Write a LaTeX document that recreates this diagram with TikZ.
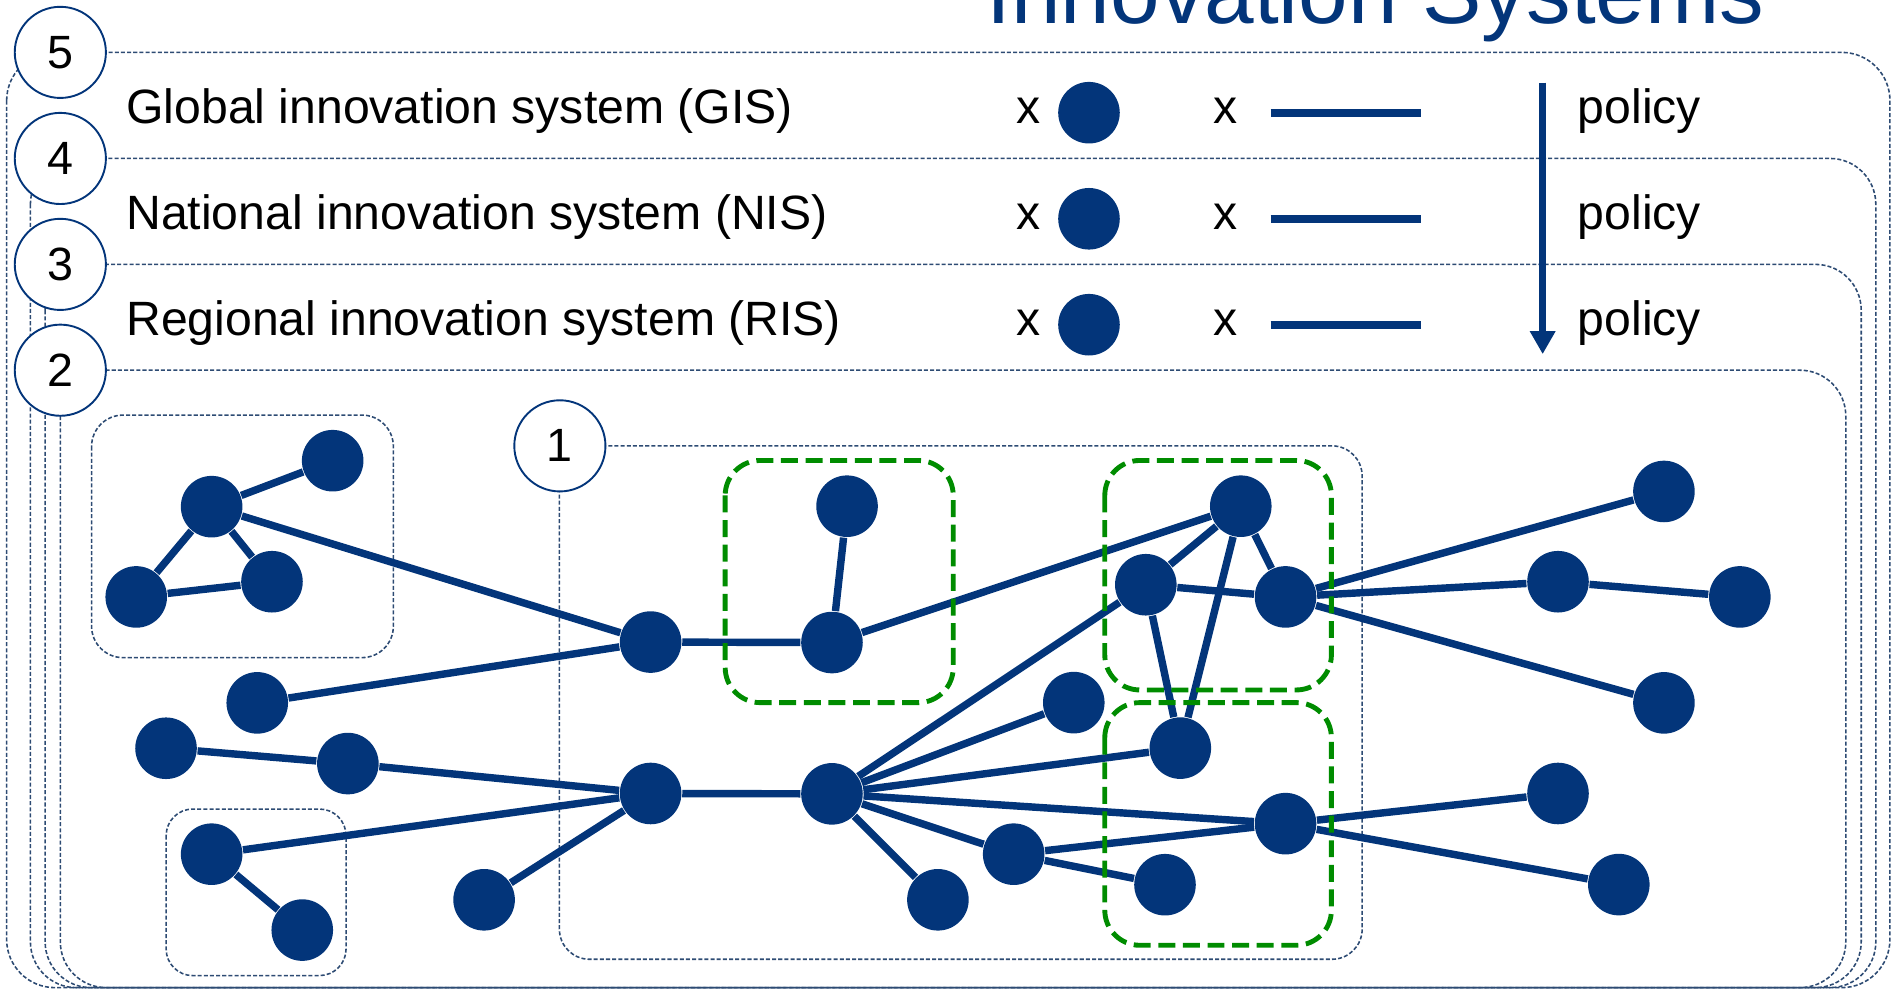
\documentclass[tikz,border=0pt]{standalone}
\usepackage{fontspec}
\setmainfont{Liberation Sans}
\usetikzlibrary{arrows.meta}
\definecolor{node_blue}{RGB}{3,53,122}
\definecolor{frame_gray}{RGB}{45,75,115}
\definecolor{group_green}{RGB}{0,140,0}

\begin{document}
\begin{tikzpicture}[x=0.01cm,y=-0.01cm,line join=round]
    \tikzstyle{actor}=[circle, fill=node_blue, draw=none, minimum size=0.51cm, inner sep=0pt]
    \tikzstyle{levelmark}=[circle, draw=node_blue, line width=0.45pt, fill=white, minimum size=0.755cm, inner sep=0pt, font=\fontsize{11}{13}\selectfont]
    \tikzstyle{sysframe}=[draw=frame_gray, line width=0.37pt, dash pattern=on 0.95pt off 0.5pt]
    \tikzstyle{cluster}=[draw=group_green, line width=1.15pt, dash pattern=on 4pt off 1.8pt, rounded corners=0.29cm]
    \tikzstyle{link}=[draw=node_blue, line width=1.75pt]
    \tikzstyle{legendtext}=[anchor=base west, inner sep=0pt, font=\fontsize{11.35}{14}\selectfont]

    \useasboundingbox (0,0) rectangle (1568,820.5);
    \clip (0,0) rectangle (1568,820.5);

    % title, cut by the upper edge
    \node[anchor=base west, inner sep=0pt, text=node_blue, font=\fontsize{21}{25}\selectfont] (title) at (817,19.5) {Innovation Systems};

    % nested systems
    \draw[sysframe, rounded corners=0.4cm]  (5.5,43.4)   rectangle (1566.3,818.5);
    \draw[sysframe, rounded corners=0.38cm] (25.2,131.3) rectangle (1554.6,818.5);
    \draw[sysframe, rounded corners=0.38cm] (37.4,219.1) rectangle (1542.5,818.5);
    \draw[sysframe, rounded corners=0.38cm] (50,306.8)   rectangle (1529.7,818.5);
    \draw[sysframe, rounded corners=0.26cm] (75.9,344)   rectangle (326,545);
    \draw[sysframe, rounded corners=0.22cm] (137.7,670.5) rectangle (286.8,808.5);
    \draw[sysframe, rounded corners=0.25cm] (463.6,369.5) rectangle (1128.9,795);

    \node[levelmark] (lv5) at (50,43.4)   {5};
    \node[levelmark] (lv4) at (50,131.3)  {4};
    \node[levelmark] (lv3) at (50,219.1)  {3};
    \node[levelmark] (lv2) at (50,306.8)  {2};
    \node[levelmark] (lv1) at (464,369.5) {1};

    % legend
    \node[legendtext] (gis) at (104,102.4) {Global innovation system (GIS)};
    \node[legendtext] (nis) at (104,190.3) {National innovation system (NIS)};
    \node[legendtext] (ris) at (104,278.1) {Regional innovation system (RIS)};
    \node[legendtext, anchor=base] (gx1) at (852.5,102.4) {x};
    \node[legendtext, anchor=base] (nx1) at (852.5,190.3) {x};
    \node[legendtext, anchor=base] (rx1) at (852.5,278.1) {x};
    \node[actor] (gdot) at (902.5,93.4)  {};
    \node[actor] (ndot) at (902.5,181.3) {};
    \node[actor] (rdot) at (902.5,269.1) {};
    \node[legendtext, anchor=base] (gx2) at (1016,102.4) {x};
    \node[legendtext, anchor=base] (nx2) at (1016,190.3) {x};
    \node[legendtext, anchor=base] (rx2) at (1016,278.1) {x};
    \coordinate (gl1) at (1053,93.4);  \coordinate (gl2) at (1178,93.4);
    \coordinate (nl1) at (1053,181.3); \coordinate (nl2) at (1178,181.3);
    \coordinate (rl1) at (1053,269.1); \coordinate (rl2) at (1178,269.1);
    \draw[link, line width=1.9pt] (gl1) -- (gl2);
    \draw[link, line width=1.9pt] (nl1) -- (nl2);
    \draw[link, line width=1.9pt] (rl1) -- (rl2);
    \node[legendtext] (gpol) at (1307,102.4) {policy};
    \node[legendtext] (npol) at (1307,190.3) {policy};
    \node[legendtext] (rpol) at (1307,278.1) {policy};
    \coordinate (ptop) at (1278.5,68.5);
    \coordinate (pbot) at (1278.5,293.5);
    \draw[link, line width=1.6pt, -{Triangle[width=0.2cm,length=0.19cm]}] (ptop) -- (pbot);

    % actors
    \node[actor] (c1) at (275.7,381.8) {};
    \node[actor] (c2) at (175.4,419.9) {};
    \node[actor] (c3) at (112.9,494.7) {};
    \node[actor] (c4) at (225.4,482.1) {};
    \node[actor] (l1) at (213.2,582.5) {};
    \node[actor] (l2) at (137.6,620.1) {};
    \node[actor] (l3) at (288.3,632.8) {};
    \node[actor] (l4) at (401.2,745.7) {};
    \node[actor] (b1) at (175.4,707.9) {};
    \node[actor] (b2) at (250.5,770.8) {};
    \node[actor] (h1) at (539.2,532.1) {};
    \node[actor] (h2) at (689.5,532.5) {};
    \node[actor] (h3) at (539.2,657.6) {};
    \node[actor] (h4) at (689.5,657.9) {};
    \node[actor] (u1) at (702,419.5)   {};
    \node[actor] (r1) at (1028.3,419.5) {};
    \node[actor] (r2) at (949.6,484.6)  {};
    \node[actor] (r3) at (1065.4,494.7) {};
    \node[actor] (m1) at (889.9,582.3)  {};
    \node[actor] (m2) at (840.1,707.9)  {};
    \node[actor] (m3) at (777.3,745.7)  {};
    \node[actor] (s1) at (978.2,620)    {};
    \node[actor] (s2) at (965.5,733.2)  {};
    \node[actor] (s3) at (1065.4,682.6) {};
    \node[actor] (e1) at (1379,407.3)   {};
    \node[actor] (e2) at (1291.2,482.1) {};
    \node[actor] (e3) at (1441.9,494.7) {};
    \node[actor] (e4) at (1379,582.5)   {};
    \node[actor] (e5) at (1291.2,657.6) {};
    \node[actor] (e6) at (1341.6,733.1) {};

    \path[link]
     (c2) edge (c1)
     (c2) edge (c3)
     (c2) edge (c4)
     (c3) edge (c4)
     (c2) edge (h1)
     (l1) edge (h1)
     (h1) edge (h2)
     (u1) edge (h2)
     (h2) edge (r1)
     (l2) edge (l3)
     (l3) edge (h3)
     (b1) edge (b2)
     (b1) edge (h3)
     (l4) edge (h3)
     (h3) edge (h4)
     (h4) edge (r2)
     (h4) edge (m1)
     (h4) edge (s1)
     (h4) edge (s3)
     (h4) edge (m2)
     (h4) edge (m3)
     (m2) edge (s3)
     (m2) edge (s2)
     (r1) edge (r2)
     (r1) edge (r3)
     (r2) edge (r3)
     (r1) edge (s1)
     (r2) edge (s1)
     (r3) edge (e1)
     (r3) edge (e2)
     (r3) edge (e4)
     (e2) edge (e3)
     (s3) edge (e5)
     (s3) edge (e6)
     ;

    % clusters
    \draw[cluster] (601,381.6)   rectangle (790,582.3);
    \draw[cluster] (915.6,381.6) rectangle (1103.4,571.8);
    \draw[cluster] (915.6,582.3) rectangle (1103.4,783.4);
\end{tikzpicture}
\end{document}
